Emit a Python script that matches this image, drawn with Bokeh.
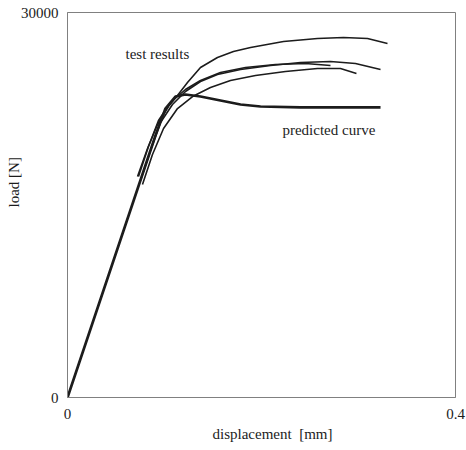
from bokeh.plotting import figure
from bokeh.models import Range1d, FixedTicker, Label, Title
from bokeh.embed import file_html
from bokeh.resources import INLINE

# ---- data (displacement [mm], load [N]) ----
pred_x = [0.0, 0.0907, 0.1010, 0.1113, 0.1216, 0.1371, 0.1577, 0.1784, 0.1990, 0.2402, 0.3227]
pred_y = [0, 20415, 22519, 23454, 23610, 23454, 23142, 22831, 22675, 22600, 22600]

test1_x = [0.0722, 0.0825, 0.0928, 0.1041, 0.1134, 0.1237, 0.1371, 0.1546, 0.1711, 0.1887, 0.2227, 0.2577, 0.2845, 0.3093, 0.3299]
test1_y = [17220, 19402, 21272, 22675, 23532, 24545, 25714, 26493, 26960, 27272, 27740, 27973, 28051, 27973, 27584]

test2_x = [0.0753, 0.0856, 0.0959, 0.1082, 0.1216, 0.1371, 0.1546, 0.1784, 0.2093, 0.2402, 0.2711, 0.2969, 0.3227]
test2_y = [16909, 19246, 21428, 22831, 23844, 24623, 25168, 25558, 25869, 26103, 26181, 26025, 25558]

test3_x = [0.0732, 0.0835, 0.0938, 0.1062, 0.1216, 0.1371, 0.1577, 0.1835, 0.2144, 0.2454, 0.2711]
test3_y = [17220, 19558, 21584, 22987, 24000, 24701, 25324, 25714, 25947, 26025, 25869]

test4_x = [0.0773, 0.0876, 0.0990, 0.1134, 0.1289, 0.1474, 0.1680, 0.1938, 0.2247, 0.2577, 0.2814, 0.2979]
test4_y = [16597, 18935, 20961, 22519, 23454, 24155, 24701, 25090, 25402, 25636, 25636, 25246]

x_ticks = [0, 0.4]
x_tick_labels = {0: "0", 0.4: "0.4"}
y_ticks = [0, 30000]
y_tick_labels = {0: "0", 30000: "30000"}

FONT = "Liberation Serif"
INK = "#1c1c1c"

p = figure(width=466, height=450, output_backend="svg", toolbar_location=None,
           x_range=Range1d(0, 0.4), y_range=Range1d(0, 30000),
           min_border_left=67, min_border_right=11, min_border_top=12, min_border_bottom=53)

p.grid.visible = False
p.outline_line_color = "#808080"
p.outline_line_width = 1
p.background_fill_color = "white"
p.border_fill_color = "white"

for ax, ticks, labels in ((p.xaxis, x_ticks, x_tick_labels), (p.yaxis, y_ticks, y_tick_labels)):
    ax.ticker = FixedTicker(ticks=ticks)
    ax.major_label_overrides = labels
    ax.major_tick_line_color = None
    ax.minor_tick_line_color = None
    ax.major_tick_out = 0
    ax.axis_line_color = "#808080"
    ax.major_label_text_font = FONT
    ax.major_label_text_font_size = "15px"
    ax.major_label_text_color = INK
p.xaxis.major_label_standoff = 11
p.yaxis.major_label_standoff = 9

for xs, ys in ((test1_x, test1_y), (test2_x, test2_y), (test3_x, test3_y), (test4_x, test4_y)):
    p.line(xs, ys, line_color=INK, line_width=1.6)
p.line(pred_x, pred_y, line_color=INK, line_width=2.7)

def lab(x, y, t):
    p.add_layout(Label(x=x, y=y, text=t, text_font=FONT, text_font_size="15px",
                       text_color=INK, text_align="left", text_baseline="middle"))

lab(0.0598, 26805, "test results")
lab(0.2216, 20883, "predicted curve")

xt = Title(text="displacement \u00a0[mm]", align="left", offset=145, standoff=4,
           text_font=FONT, text_font_size="15px", text_font_style="normal", text_color=INK)
p.add_layout(xt, "below")
yt = Title(text="load [N]", align="left", offset=190, standoff=-8,
           text_font=FONT, text_font_size="15px", text_font_style="normal", text_color=INK)
p.add_layout(yt, "left")

open("out.html", "w").write(file_html(p, INLINE))
